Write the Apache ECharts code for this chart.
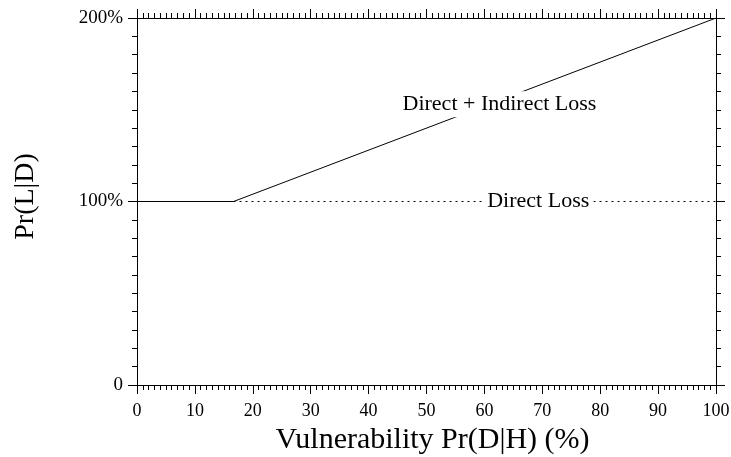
<!DOCTYPE html>
<html>
<head>
<meta charset="utf-8">
<script src="https://cdn.jsdelivr.net/npm/echarts@6/dist/echarts.min.js"></script>
<style>
  html, body { margin: 0; padding: 0; background: #fff; }
  #chart { width: 731px; height: 457px; }
</style>
</head>
<body>
<div id="chart"></div>
<script>
// vulnerability (%) where indirect loss starts to add to direct loss
const totalX = [0, 16.67, 100]
const totalLoss = [100, 100, 200]
const directX = [16.67, 100]
const directLoss = [100, 100]

// where the curve labels sit, in data units
const labelNames = ['Direct + Indirect Loss', 'Direct Loss']
const labelX = [62.6, 69.3]
const labelY = [153, 100]

const FONT = '"Liberation Serif", "DejaVu Serif", serif'

const chart = echarts.init(document.getElementById('chart'))

const axisCommon = {
  axisLine: { show: true, onZero: false, lineStyle: { color: '#000', width: 1 } },
  axisTick: { show: true, inside: false, length: 9, lineStyle: { color: '#000', width: 1 } },
  minorTick: { show: true, splitNumber: 10, length: 5, lineStyle: { color: '#000', width: 1 } },
  splitLine: { show: false },
  minorSplitLine: { show: false }
}

const option = {
  animation: false,
  backgroundColor: '#fff',
  textStyle: { fontFamily: FONT, color: '#000' },
  grid: { left: 137, right: 15, top: 18, bottom: 72, outerBoundsMode: 'none', containLabel: false },
  xAxis: [
    {
      type: 'value', min: 0, max: 100, interval: 10, position: 'bottom',
      ...axisCommon,
      axisLabel: { color: '#000', fontFamily: FONT, fontSize: 18, margin: 17 },
      name: 'Vulnerability Pr(D|H) (%)',
      nameLocation: 'middle',
      nameGap: 39,
      nameTextStyle: { color: '#000', fontFamily: FONT, fontSize: 30, padding: [0, 0, 0, 12] }
    },
    {
      type: 'value', min: 0, max: 100, interval: 10, position: 'top',
      ...axisCommon,
      axisLabel: { show: false }
    }
  ],
  yAxis: [
    {
      type: 'value', min: 0, max: 200, interval: 100, position: 'left',
      ...axisCommon,
      axisLabel: {
        color: '#000', fontFamily: FONT, fontSize: 19, margin: 14,
        formatter: v => (v === 0 ? '0' : v + '%')
      },
      name: 'Pr(L|D)',
      nameLocation: 'middle',
      nameGap: 97,
      nameTextStyle: { color: '#000', fontFamily: FONT, fontSize: 28, padding: [0, 0, 0, 10] }
    },
    {
      type: 'value', min: 0, max: 200, interval: 100, position: 'right',
      ...axisCommon,
      axisLabel: { show: false }
    }
  ],
  series: [
    {
      type: 'line',
      data: totalX.map((x, i) => [x, totalLoss[i]]),
      symbol: 'none',
      lineStyle: { color: '#000', width: 1 },
      z: 2
    },
    {
      type: 'line',
      data: directX.map((x, i) => [x, directLoss[i]]),
      symbol: 'none',
      lineStyle: { color: '#000', width: 1.2, type: [2, 4] },
      z: 2
    },
    {
      // curve labels, drawn on a white box so they cut the lines
      type: 'scatter',
      symbolSize: 1,
      itemStyle: { color: 'rgba(0,0,0,0)' },
      data: labelNames.map((n, i) => ({ name: n, value: [labelX[i], labelY[i]] })),
      label: {
        show: true,
        position: 'inside',
        formatter: p => p.name,
        fontFamily: FONT,
        fontSize: 22,
        color: '#000',
        opacity: 1,
        textBorderWidth: 0,
        backgroundColor: '#fff',
        padding: [2, 4]
      },
      emphasis: { disabled: true },
      z: 5
    }
  ]
}

chart.setOption(option)
</script>
</body>
</html>
